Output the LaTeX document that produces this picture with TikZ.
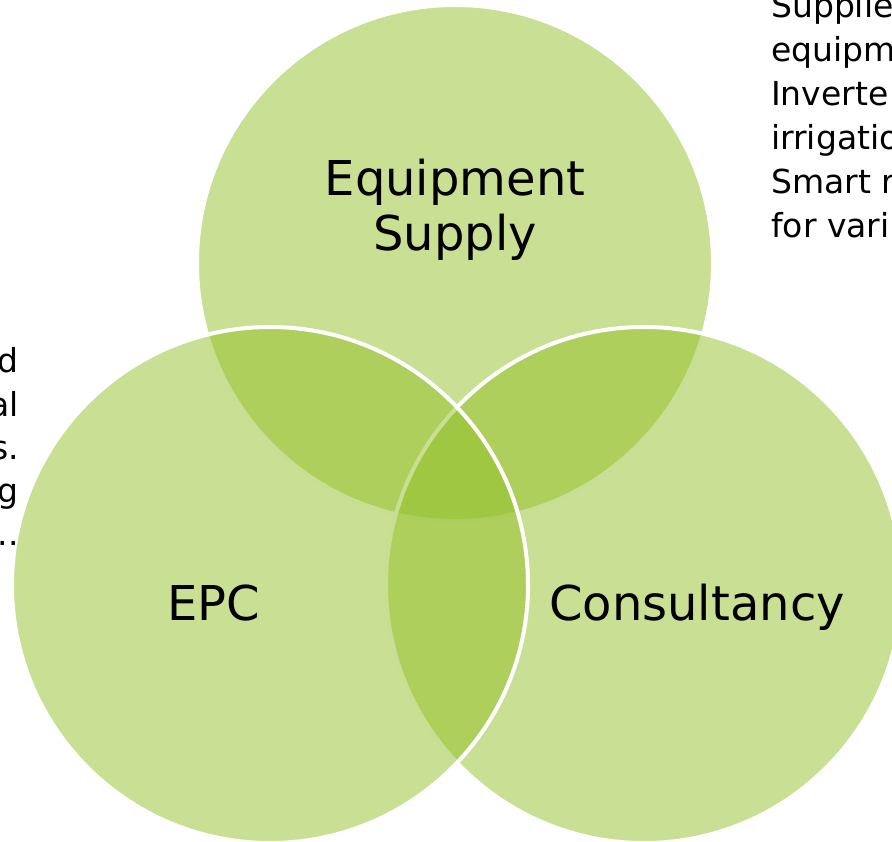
\documentclass[tikz,border=0pt]{standalone}
\usepackage{fontspec}
\setmainfont{DejaVu Sans}
\usepackage{tikz}
\usetikzlibrary{positioning}
\definecolor{leafgreen}{RGB}{147,191,39}

\begin{document}
\begin{tikzpicture}[
    x=1pt, y=-1pt,
    vennstyle/.style={circle, draw=white, line width=4pt, fill=leafgreen, fill opacity=0.5, draw opacity=1, minimum size=516pt, inner sep=0pt},
    labelstyle/.style={font=\fontsize{48}{55}\selectfont, text=black, align=center, inner sep=0pt},
    sidestyle/.style={font=\fontsize{33}{44}\selectfont, text=black, inner sep=0pt}
  ]
  \useasboundingbox (0,0) rectangle (892,842);
  \clip (0,0) rectangle (892,842);
  \node[vennstyle] (EQUIP) at (455,263) {};
  \node[vennstyle] (CONS) at (644,585) {};
  \node[vennstyle] (EPC) at (270,585) {};
  \node[labelstyle] (EQUIPTXT) at (455,210) {Equipment\\Supply};
  \node[labelstyle, anchor=base] (EPCTXT) at (214,620) {EPC};
  \node[labelstyle, anchor=base] (CONSTXT) at (697,620) {Consultancy};
  % text cut off at the page edges
  \foreach \txt [count=\i] in {Supplie, equipm, Inverte, irrigatio, Smart r, for vari}
    \node[sidestyle, anchor=base west] (RIGHT\i) at (771,{18+44*(\i-1)}) {\txt};
  \foreach \txt [count=\i] in {d, al, s., g, ..}
    \node[sidestyle, anchor=base east] (LEFT\i) at (19,{373+43*(\i-1)}) {\txt};
\end{tikzpicture}
\end{document}
